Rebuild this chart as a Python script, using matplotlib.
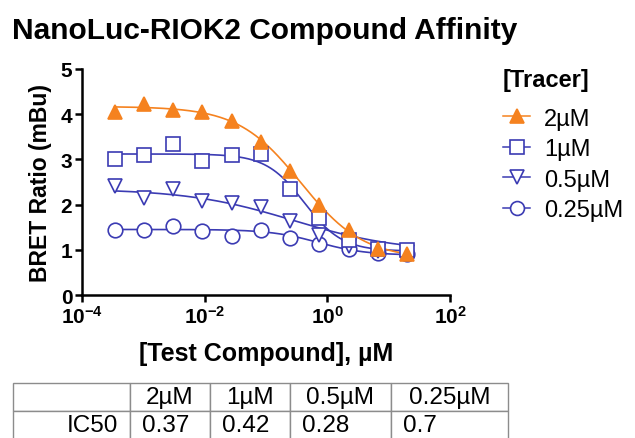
import numpy as np
import matplotlib
matplotlib.use('Agg')
from matplotlib import pyplot as plt
from matplotlib.ticker import FixedLocator, FixedFormatter

plt.rcParams['font.family'] = ['Liberation Sans', 'DejaVu Sans']
plt.rcParams['mathtext.fontset'] = 'custom'
plt.rcParams['mathtext.bf'] = 'Liberation Sans:bold'
plt.rcParams['mathtext.rm'] = 'Liberation Sans:bold'

## Data ----------------------------------------------------------------------
conc = [3.39e-4, 1.02e-3, 3.05e-3, 9.14e-3, 0.0274, 0.0823, 0.247, 0.741, 2.22, 6.67, 20.0]

tracer_labels = ['2µM', '1µM', '0.5µM', '0.25µM']
bret_2uM = [4.04, 4.22, 4.10, 4.05, 3.85, 3.39, 2.74, 2.00, 1.44, 1.02, 0.91]
bret_1uM = [3.01, 3.09, 3.35, 2.96, 3.09, 3.11, 2.35, 1.70, 1.22, 1.01, 1.00]
bret_05uM = [2.41, 2.15, 2.35, 2.07, 2.04, 1.94, 1.64, 1.33, 1.08, 0.97, 0.95]
bret_025uM = [1.44, 1.44, 1.52, 1.41, 1.31, 1.44, 1.26, 1.12, 1.02, 0.93, 0.90]

# 4PL fit parameters (IC50 from the table, the rest)
fit_top = [4.17, 3.12, 2.35, 1.45]
fit_bottom = [0.80, 0.97, 0.95, 0.88]
fit_ic50 = [0.37, 0.42, 0.28, 0.70]
fit_hill = [0.85, 1.4, 0.5, 1.1]

table_rows = ['IC50']
table_vals = ['0.37', '0.42', '0.28', '0.7']

## Plot ----------------------------------------------------------------------
orange = '#F5821F'
blue = '#3B3BB3'
styles = [dict(marker='^', color=orange, mfc=orange),
          dict(marker='s', color=blue, mfc='white'),
          dict(marker='v', color=blue, mfc='white'),
          dict(marker='o', color=blue, mfc='white')]
series = [bret_2uM, bret_1uM, bret_05uM, bret_025uM]

fig = plt.figure(figsize=(6.35, 4.39), dpi=100)
ax = fig.add_axes([82/635, 1 - 296/439, (450-82)/635, (296-70)/439])

xfit = np.logspace(np.log10(conc[0]), np.log10(conc[-1]), 200)
# draw from back to front: circles first, orange triangles last
for i in [3, 2, 1, 0]:
    st = styles[i]
    yfit = fit_bottom[i] + (fit_top[i] - fit_bottom[i]) / (1 + (xfit / fit_ic50[i])**fit_hill[i])
    ax.plot(xfit, yfit, color=st['color'], lw=1.2, zorder=2)
    ax.plot(conc, series[i], linestyle='none', marker=st['marker'], mfc=st['mfc'],
            mec=st['color'], ms=10.5, mew=1.2, zorder=6 - i)

handles = []
for i in range(4):
    st = styles[i]
    h, = ax.plot([], [], color=st['color'], lw=1.1, marker=st['marker'], mfc=st['mfc'],
                 mec=st['color'], ms=10, mew=1.2)
    handles.append(h)

ax.set_xscale('log')
ax.set_xlim(1e-4, 1e2)
ax.set_ylim(0, 5)
ax.xaxis.set_major_locator(FixedLocator([1e-4, 1e-2, 1e0, 1e2]))
ax.xaxis.set_major_formatter(FixedFormatter([r'$\mathbf{10^{-4}}$', r'$\mathbf{10^{-2}}$',
                                             r'$\mathbf{10^{0}}$', r'$\mathbf{10^{2}}$']))
ax.xaxis.set_minor_locator(FixedLocator([]))
ax.set_yticks([0, 1, 2, 3, 4, 5])
for s in ['top', 'right']:
    ax.spines[s].set_visible(False)
for s in ['left', 'bottom']:
    ax.spines[s].set_linewidth(1.8)
ax.tick_params(width=1.8, length=5, direction='out', labelsize=15, pad=2)
for lab in ax.get_yticklabels():
    lab.set_fontweight('bold')

ax.set_xlabel('[Test Compound], µM', fontsize=18, fontweight='bold', labelpad=10)
ax.set_ylabel('BRET Ratio (mBu)', fontsize=16.5, fontweight='bold', labelpad=6)

fig.text(12/635, 1 - 39/439, 'NanoLuc-RIOK2 Compound Affinity', fontsize=21.5,
         fontweight='bold', ha='left', va='baseline')

leg = fig.legend(handles=handles, labels=tracer_labels, loc='upper left',
                 bbox_to_anchor=(503/635, 1 - 69/439), frameon=False,
                 title='[Tracer]', title_fontproperties={'weight': 'bold', 'size': 17},
                 fontsize=17, handlelength=1.15, handletextpad=0.6,
                 labelspacing=0.36, borderpad=0, borderaxespad=0, alignment='left')
leg._legend_box.sep = 12  # extra gap under the legend title

## Table ---------------------------------------------------------------------
tax = fig.add_axes([13/635, 1 - 440/439, (508-13)/635, (440-384)/439])
tax.axis('off')
cell_text = [[''] + tracer_labels, table_rows + table_vals]
col_w = [117, 80, 80, 101, 117]
tbl = tax.table(cellText=cell_text, colWidths=[w/sum(col_w) for w in col_w],
                bbox=[0, 0, 1, 1])
tbl.auto_set_font_size(False)
for (r, c), cell in tbl.get_celld().items():
    cell.set_edgecolor('#8c8c8c')
    cell.set_linewidth(1.0)
    txt = cell.get_text()
    txt.set_fontsize(17.5)
    if r == 0:
        cell._loc = 'center'
        txt.set_ha('center')
    elif c == 0:
        cell._loc = 'right'
        txt.set_ha('right')
        cell.PAD = 12 / col_w[c]
    else:
        cell._loc = 'left'
        txt.set_ha('left')
        cell.PAD = 12 / col_w[c]

fig.savefig('out.png', dpi=100)
